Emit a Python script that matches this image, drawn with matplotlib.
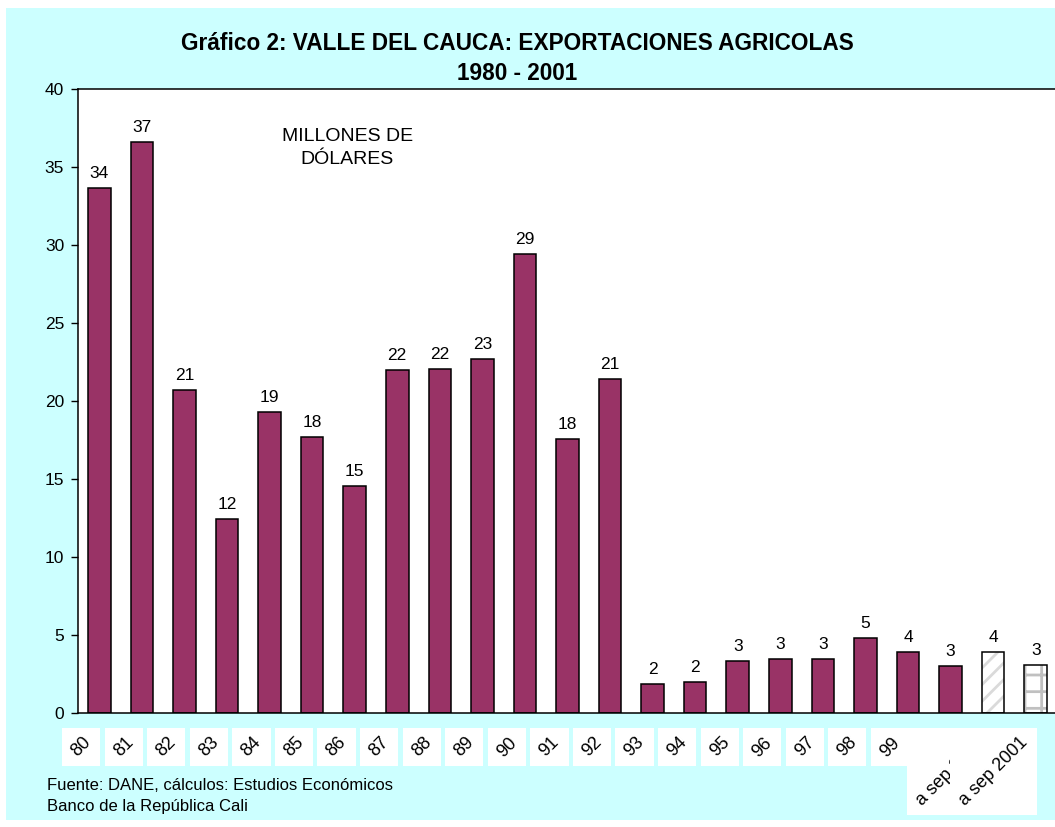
import matplotlib
matplotlib.use('Agg')
import numpy as np
from matplotlib import pyplot as plt
from matplotlib.patches import Rectangle

plt.rcParams['font.family'] = ['Liberation Sans', 'DejaVu Sans']
plt.rcParams['hatch.linewidth'] = 2.0

# values, millions of dollars
years = ['80', '81', '82', '83', '84', '85', '86', '87', '88', '89',
         '90', '91', '92', '93', '94', '95', '96', '97', '98', '99',
         '', 'a sep 2000', 'a sep 2001']
exports = [33.65, 36.6, 20.7, 12.45, 19.3, 17.7, 14.55, 22.0, 22.05, 22.7,
           29.4, 17.56, 21.4, 1.86, 2.0, 3.33, 3.46, 3.46, 4.8, 3.9,
           3.03, 3.9, 3.06]

W, H = 1055, 827
fig = plt.figure(figsize=(W / 100, H / 100), dpi=100)
fig.patch.set_facecolor('white')
fig.patches.append(Rectangle((6 / W, 1 - 820 / H), 1, (820 - 8) / H,
                             transform=fig.transFigure, facecolor='#CCFFFF',
                             edgecolor='none', zorder=-10))

ax = fig.add_axes([78 / W, 1 - 713 / H, (1057 - 78) / W, (713 - 89) / H])
x = np.arange(len(years))
n_plain = 21

ax.bar(x[:n_plain], exports[:n_plain], width=0.53, color='#993366',
       edgecolor='black', linewidth=1.1, zorder=2)

# hatched bar (a sep 2000)
ax.bar(x[21], exports[21], width=0.53, color='white', edgecolor='#DADADA',
       linewidth=0, hatch='//', zorder=2)
ax.bar(x[21], exports[21], width=0.53, fill=False, edgecolor='black',
       linewidth=1.1, zorder=3)
# brick bar (a sep 2001)
ax.bar(x[22], exports[22], width=0.53, color='white', edgecolor='#C0C0C0',
       linewidth=0, hatch='+', zorder=2)
ax.bar(x[22], exports[22], width=0.53, fill=False, edgecolor='black',
       linewidth=1.1, zorder=3)

for xi, v in zip(x, exports):
  ax.annotate(f'{v:.0f}', (xi, v), xytext=(0, 5), textcoords='offset points',
              ha='center', va='bottom', fontsize=12.5)

ax.set_xlim(-0.5, 22.5)
ax.set_ylim(0, 40)
ax.set_yticks(range(0, 41, 5))
ax.tick_params(axis='y', labelsize=12.5, length=5, width=1, direction='out',
               pad=5)
ax.set_xticks([])
for side in ['left', 'top', 'bottom']:
  ax.spines[side].set_color('black')
  ax.spines[side].set_linewidth(1.1)
ax.spines['right'].set_visible(False)

ax.text(0.275, 0.905, 'MILLONES DE\nDÓLARES', transform=ax.transAxes,
        ha='center', va='center', fontsize=14, linespacing=1.45)

# rotated category labels on white boxes
trans = ax.get_xaxis_transform()
offset = matplotlib.transforms.ScaledTranslation(-11 / 100, -27 / 100,
                                                 fig.dpi_scale_trans)
labels = []
for i, lab in enumerate(years):
  t = ax.text(i, 0, lab, transform=trans + offset, rotation=45,
              rotation_mode='anchor', ha='right', va='center', fontsize=13,
              clip_on=False, zorder=11 + 2 * i)
  labels.append(t)

fig.canvas.draw()
renderer = fig.canvas.get_renderer()
pad = 6
for i, t in enumerate(labels):
  if not t.get_text():
    continue
  bb = t.get_window_extent(renderer)
  ax.add_patch(Rectangle(((bb.x0 - pad) / W, (bb.y0 - pad) / H),
                         (bb.width + 2 * pad) / W, (bb.height + 2 * pad) / H,
                         transform=fig.transFigure, facecolor='white',
                         edgecolor='none', clip_on=False, zorder=10 + 2 * i))

fig.text(517 / W, 1 - 43 / H, 'Gráfico 2: VALLE DEL CAUCA: EXPORTACIONES AGRICOLAS',
         ha='center', va='center', fontsize=16.3, fontweight='bold')
fig.text(517 / W, 1 - 74 / H, '1980 - 2001', ha='center', va='center',
         fontsize=16.3, fontweight='bold')

fig.text(47 / W, 1 - 785 / H, 'Fuente: DANE, cálculos: Estudios Económicos',
         ha='left', va='center', fontsize=12)
fig.text(47 / W, 1 - 806 / H, 'Banco de la República Cali',
         ha='left', va='center', fontsize=12)

fig.savefig('out.png', dpi=100)
